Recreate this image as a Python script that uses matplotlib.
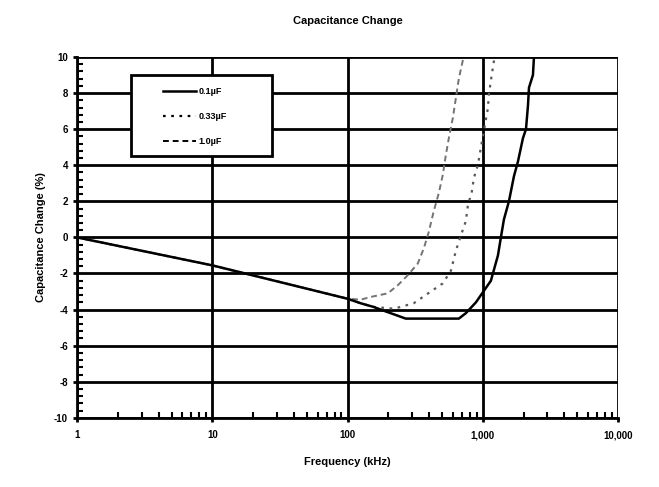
import matplotlib

matplotlib.use("Agg")
import matplotlib.pyplot as plt
import numpy as np
from matplotlib.patches import Rectangle
from matplotlib.ticker import FixedLocator, FuncFormatter, LogLocator, MultipleLocator

# 0.1 uF (solid)
f_01 = [1, 10, 100, 125, 155, 191, 227, 269, 664, 748, 888, 1146, 1292, 1359,
        1431, 1558, 1698, 1816, 1978, 2083, 2154, 2192, 2345, 2386]
c_01 = [0.0, -1.55, -3.4, -3.65, -3.85, -4.1, -4.3, -4.5, -4.5, -4.2, -3.6,
        -2.4, -1.0, 0.0, 1.0, 2.0, 3.4, 4.2, 5.5, 6.0, 7.3, 8.3, 9.0, 10.0]

# 0.33 uF (dotted)
f_033 = [1, 10, 100, 125, 155, 219, 247, 308, 412, 505, 580, 631, 687, 748, 774,
         829, 858, 918, 950, 984, 1089, 1107, 1146, 1220]
c_033 = [0.0, -1.55, -3.4, -3.65, -3.85, -3.95, -3.85, -3.65, -3.0, -2.55, -1.85,
         -0.75, 0.1, 0.9, 1.75, 2.55, 3.3, 4.0, 4.65, 5.3, 7.15, 7.9, 8.7, 10.0]

# 1.0 uF (dashed)
f_10 = [1, 10, 100, 125, 148, 198, 235, 278, 330, 366, 398, 433, 472, 505, 532,
        560, 599, 631, 664, 720]
c_10 = [0.0, -1.55, -3.4, -3.45, -3.3, -3.1, -2.65, -2.1, -1.45, -0.6, 0.3, 1.45,
        2.45, 3.45, 4.55, 5.5, 6.6, 7.7, 8.8, 10.0]

x_ticks = [1, 10, 100, 1000, 10000]
x_labels = ["1", "10", "100", "1,000", "10,000"]

plt.rcParams["font.family"] = ["Liberation Sans", "DejaVu Sans"]
plt.rcParams["font.weight"] = "bold"
plt.rcParams["axes.unicode_minus"] = False

fig = plt.figure(figsize=(6.59, 4.87), dpi=100)
ax = fig.add_axes((0.117, 0.142, 0.821, 0.741))

ax.plot(f_10, c_10, color="0.45", lw=1.4, ls=(0, (3, 2)), label="1.0µF", zorder=3)
ax.plot(f_033, c_033, color="0.35", lw=1.6, ls=(0, (1.2, 2.5)), label="0.33µF", zorder=3)
ax.plot(f_01, c_01, color="black", lw=1.8, label="0.1µF", zorder=4)

ax.set_xscale("log")
ax.set_xlim(1, 10000)
ax.set_ylim(-10, 10)
ax.xaxis.set_major_locator(FixedLocator(x_ticks))
ax.xaxis.set_major_formatter(FuncFormatter(lambda v, p: x_labels[x_ticks.index(round(v))]
                                           if round(v) in x_ticks else ""))
ax.xaxis.set_minor_locator(LogLocator(base=10, subs=np.arange(2, 10)))
ax.xaxis.set_minor_formatter(FuncFormatter(lambda v, p: ""))
ax.yaxis.set_major_locator(MultipleLocator(2))
ax.yaxis.set_minor_locator(MultipleLocator(0.4))

ax.grid(True, which="major", color="black", lw=2)
ax.tick_params(which="major", direction="out", length=3, width=2, labelsize=7)
ax.tick_params(axis="x", which="major", pad=6)
ax.tick_params(which="minor", direction="in", length=4, width=1.5)
for s in ax.spines.values():
    s.set_visible(False)
for side in ("left", "bottom"):
    ax.spines[side].set_visible(True)
    ax.spines[side].set_linewidth(2)

ax.set_xlabel("Frequency (kHz)", fontsize=8, fontweight="bold", labelpad=12)
ax.set_ylabel("Capacitance Change (%)", fontsize=8, fontweight="bold", labelpad=6)
ax.set_title("Capacitance Change", fontsize=8, fontweight="bold", pad=24)

# legend: white box with a heavy frame, entries in the reference order
ax.add_patch(Rectangle((0.0998, 0.726), 0.26, 0.224, transform=ax.transAxes,
                       facecolor="white", edgecolor="black", lw=2, zorder=5))
handles, labels = ax.get_legend_handles_labels()
leg = ax.legend(handles[::-1], labels[::-1], loc="upper left",
                bbox_to_anchor=(0.159, 0.916), fontsize=6.5, frameon=False,
                handlelength=3.6, labelspacing=1.75, borderpad=0,
                handletextpad=0.3, borderaxespad=0)
leg.set_zorder(6)
for h in leg.get_lines():
    h.set_color("black")

fig.savefig("out.png", dpi=100)
